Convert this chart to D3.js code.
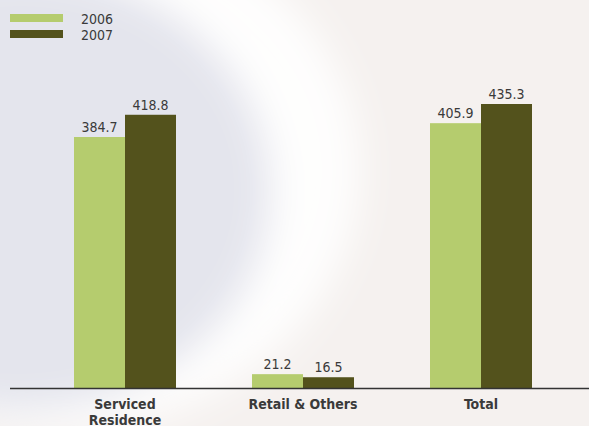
<!DOCTYPE html>
<html>
<head>
<meta charset="utf-8">
<script src="https://cdn.jsdelivr.net/npm/d3@7"></script>
<style>
  body { margin: 0; padding: 0; overflow: hidden; }
  svg text { font-family: "DejaVu Sans Condensed", "DejaVu Sans", sans-serif; font-stretch: condensed; fill: #3a3a3a; }
</style>
</head>
<body>
<div id="container"></div>
<script>
var categories = ["Serviced Residence", "Retail & Others", "Total"];
var years = ["2006", "2007"];
var values2006 = [384.7, 21.2, 405.9];
var values2007 = [418.8, 16.5, 435.3];
var colors = ["#b5cc6e", "#53521c"];

var w = 589, h = 426;
var baseY = 388;

var svg = d3.select("#container")
	.append("svg")
	.attr("width", w)
	.attr("height", h);

// background swirl
var defs = svg.append("defs");
defs.append("filter").attr("id", "blur")
	.attr("x", "-50%").attr("y", "-50%").attr("width", "200%").attr("height", "200%")
	.append("feGaussianBlur").attr("stdDeviation", 18);

svg.append("rect").attr("width", w).attr("height", h).attr("fill", "#f5f1ef");
var bg = svg.append("g").attr("filter", "url(#blur)");
bg.append("ellipse")
	.attr("cx", 60).attr("cy", 170).attr("rx", 300).attr("ry", 260)
	.attr("fill", "#ffffff").attr("opacity", 0.9);
bg.append("ellipse")
	.attr("cx", 20).attr("cy", 190).attr("rx", 250).attr("ry", 220)
	.attr("fill", "#e4e5ed");

var data = categories.map(function(c, i) {
	return { cat: c, vals: [values2006[i], values2007[i]] };
});

var x = d3.scaleBand()
	.domain(categories)
	.range([36, 570])
	.paddingInner(0.427)
	.paddingOuter(0.2135);

var xs = d3.scaleBand()
	.domain(years)
	.range([0, x.bandwidth()]);

var y = d3.scaleLinear()
	.domain([0, 435.3])
	.range([baseY, 104]);

var groups = svg.selectAll("g.cat")
	.data(data)
	.enter()
	.append("g")
	.attr("class", "cat")
	.attr("transform", function(d) { return "translate(" + x(d.cat) + ",0)"; });

groups.selectAll("rect")
	.data(function(d) { return d.vals; })
	.enter()
	.append("rect")
	.attr("x", function(d, i) { return xs(years[i]); })
	.attr("y", function(d) { return y(d); })
	.attr("width", xs.bandwidth())
	.attr("height", function(d) { return baseY - y(d); })
	.attr("fill", function(d, i) { return colors[i]; });

groups.selectAll("text.val")
	.data(function(d) { return d.vals; })
	.enter()
	.append("text")
	.attr("class", "val")
	.attr("text-anchor", "middle")
	.attr("x", function(d, i) { return xs(years[i]) + xs.bandwidth() / 2; })
	.attr("y", function(d) { return y(d) - 5; })
	.attr("font-size", 14)
	.text(function(d) { return d.toFixed(1); });

// axis line
svg.append("line")
	.attr("x1", 10).attr("x2", w)
	.attr("y1", baseY + 0.5).attr("y2", baseY + 0.5)
	.attr("stroke", "#333").attr("stroke-width", 1.5);

// category labels
groups.append("text")
	.attr("text-anchor", "middle")
	.attr("x", x.bandwidth() / 2)
	.attr("y", 409)
	.attr("font-size", 14)
	.attr("font-weight", "bold")
	.each(function(d) {
		var parts = d.cat === "Serviced Residence" ? ["Serviced", "Residence"] : [d.cat];
		var t = d3.select(this);
		parts.forEach(function(p, i) {
			t.append("tspan").attr("x", x.bandwidth() / 2).attr("dy", i === 0 ? 0 : 15.5).text(p);
		});
	});

// legend
var legend = svg.selectAll("g.legend")
	.data(years)
	.enter()
	.append("g")
	.attr("class", "legend")
	.attr("transform", function(d, i) { return "translate(10," + (14 + i * 16) + ")"; });

legend.append("rect")
	.attr("width", 53).attr("height", 8)
	.attr("fill", function(d, i) { return colors[i]; });

legend.append("text")
	.attr("x", 71).attr("y", 10)
	.attr("font-size", 14)
	.text(function(d) { return d; });
</script>
</body>
</html>
